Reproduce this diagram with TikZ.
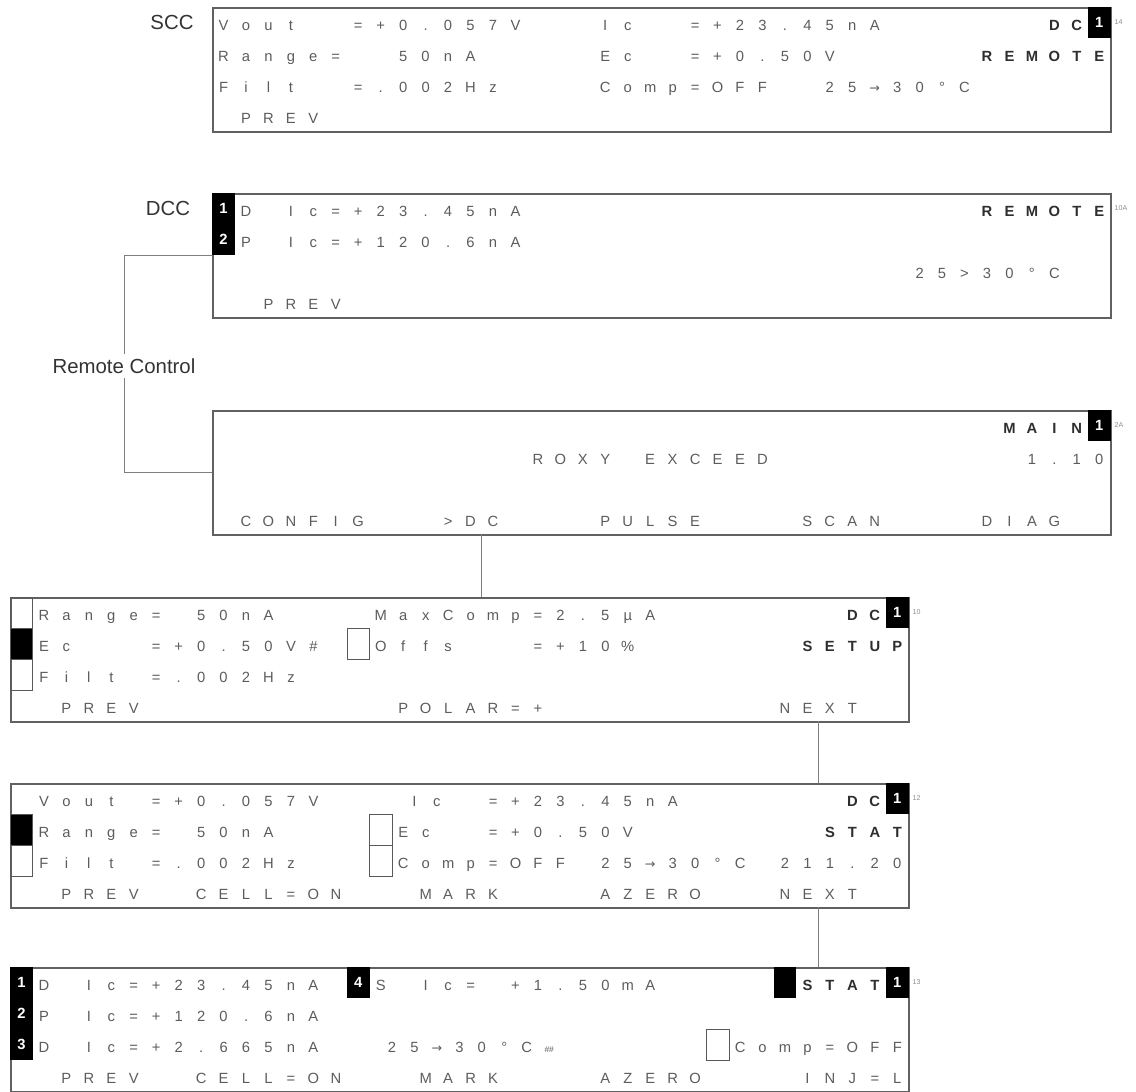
\documentclass[tikz,border=0pt]{standalone}
\usepackage{fontspec}
\setmainfont{Liberation Sans}
\newfontfamily\arrowfont{DejaVu Sans}
\usepackage{xcolor}

\definecolor{lcdtext}{HTML}{5C5C5C}
\definecolor{lcdbold}{HTML}{2E2E2E}

\newlength\cellw
\setlength\cellw{0.56125cm}
\newlength\rowh
\setlength\rowh{0.775cm}

% one character per display cell
\ExplSyntaxOn
\NewDocumentCommand\lcdspread{m}{\tl_map_inline:nn{#1}{\makebox[\cellw][c]{##1}}}
\ExplSyntaxOff
\newcommand\lcdarrow{{\arrowfont\fontsize{9}{10}\selectfont →}}

\begin{document}
\begin{tikzpicture}[x=0.025cm, y=-0.025cm,
    screen/.style={draw=black!62, line width=1.3pt, anchor=north west, minimum width=22.45cm, minimum height=3.1cm, inner sep=0pt},
    lcd/.style={anchor=base west, inner sep=0pt, yshift=-5.5pt, text=lcdtext, font=\fontsize{10.5}{12}\selectfont},
    lcdb/.style={lcd, text=lcdbold, font=\fontsize{10.5}{12}\selectfont\bfseries},
    inv/.style={anchor=north west, fill=black, text=white, minimum width=\cellw, minimum height=\rowh, inner sep=0pt, font=\fontsize{10.5}{12}\selectfont\bfseries},
    ind/.style={anchor=north west, draw=black!65, line width=0.6pt, minimum width=\cellw, minimum height=\rowh, inner sep=0pt},
    indon/.style={ind, fill=black},
    tag/.style={text=black!80, inner sep=3pt, font=\fontsize{14.5}{16}\selectfont},
    pageno/.style={anchor=west, inner sep=0pt, xshift=3pt, text=black!45, font=\fontsize{5}{6}\selectfont},
    link/.style={draw=black!50, line width=0.7pt}]
    \useasboundingbox (0,0) rectangle (1136,1091);

    % SCC
    \node[tag] (scc-tag) at (172,22) {SCC};
    \begin{scope}[shift={(212,7)}, x=0.56125cm, y=-0.775cm]
        \node[screen] (scc) at (0,0) {};
        \node[lcd] (scc-vout) at (0,0.5) {\lcdspread{Vout}};
        \node[lcd] (scc-vval) at (6,0.5) {\lcdspread{=+0.057V}};
        \node[lcd] (scc-ic) at (17,0.5) {\lcdspread{Ic}};
        \node[lcd] (scc-ival) at (21,0.5) {\lcdspread{=+23.45nA}};
        \node[lcdb] (scc-mode) at (37,0.5) {\lcdspread{DC}};
        \node[inv] (scc-ch) at (39,0) {1};
        \node[pageno] (scc-page) at (40,0.5) {14};
        \node[lcd] (scc-range) at (0,1.5) {\lcdspread{Range=}};
        \node[lcd] (scc-rval) at (8,1.5) {\lcdspread{50nA}};
        \node[lcd] (scc-ec) at (17,1.5) {\lcdspread{Ec}};
        \node[lcd] (scc-eval) at (21,1.5) {\lcdspread{=+0.50V}};
        \node[lcdb] (scc-remote) at (34,1.5) {\lcdspread{REMOTE}};
        \node[lcd] (scc-filt) at (0,2.5) {\lcdspread{Filt}};
        \node[lcd] (scc-fval) at (6,2.5) {\lcdspread{=.002Hz}};
        \node[lcd] (scc-comp) at (17,2.5) {\lcdspread{Comp=OFF}};
        \node[lcd] (scc-temp) at (27,2.5) {\lcdspread{25{\lcdarrow}30°C}};
        \node[lcd] (scc-prev) at (1,3.5) {\lcdspread{PREV}};
    \end{scope}

    % DCC
    \node[tag] (dcc-tag) at (168,208) {DCC};
    \begin{scope}[shift={(212,193)}, x=0.56125cm, y=-0.775cm]
        \node[screen] (dcc) at (0,0) {};
        \node[inv] (dcc-ch1) at (0,0) {1};
        \node[inv] (dcc-ch2) at (0,1) {2};
        \node[lcd] (dcc-d) at (1,0.5) {\lcdspread{D}};
        \node[lcd] (dcc-ic1) at (3,0.5) {\lcdspread{Ic=+23.45nA}};
        \node[lcdb] (dcc-remote) at (34,0.5) {\lcdspread{REMOTE}};
        \node[pageno] (dcc-page) at (40,0.5) {10A};
        \node[lcd] (dcc-p) at (1,1.5) {\lcdspread{P}};
        \node[lcd] (dcc-ic2) at (3,1.5) {\lcdspread{Ic=+120.6nA}};
        \node[lcd] (dcc-temp) at (31,2.5) {\lcdspread{25>30°C}};
        \node[lcd] (dcc-prev) at (2,3.5) {\lcdspread{PREV}};
        \coordinate (dcc-link) at (0,2);
    \end{scope}

    % main menu
    \begin{scope}[shift={(212,410)}, x=0.56125cm, y=-0.775cm]
        \node[screen] (main) at (0,0) {};
        \node[lcdb] (main-title) at (35,0.5) {\lcdspread{MAIN}};
        \node[inv] (main-ch) at (39,0) {1};
        \node[pageno] (main-page) at (40,0.5) {2A};
        \node[lcd] (main-name) at (14,1.5) {\lcdspread{ROXY{~}EXCEED}};
        \node[lcd] (main-ver) at (36,1.5) {\lcdspread{1.10}};
        \node[lcd] (main-config) at (1,3.5) {\lcdspread{CONFIG}};
        \node[lcd] (main-dc) at (10,3.5) {\lcdspread{>DC}};
        \node[lcd] (main-pulse) at (17,3.5) {\lcdspread{PULSE}};
        \node[lcd] (main-scan) at (26,3.5) {\lcdspread{SCAN}};
        \node[lcd] (main-diag) at (34,3.5) {\lcdspread{DIAG}};
        \coordinate (main-link) at (0,2);
        \coordinate (main-out) at (12,4);
    \end{scope}

    % DC setup
    \begin{scope}[shift={(10,597)}, x=0.56125cm, y=-0.775cm]
        \node[screen] (setup) at (0,0) {};
        \node[ind] (setup-i1) at (0,0) {};
        \node[indon] (setup-i2) at (0,1) {};
        \node[ind] (setup-i3) at (0,2) {};
        \node[ind] (setup-i4) at (15,1) {};
        \node[lcd] (setup-range) at (1,0.5) {\lcdspread{Range=}};
        \node[lcd] (setup-rval) at (8,0.5) {\lcdspread{50nA}};
        \node[lcd] (setup-max) at (16,0.5) {\lcdspread{MaxComp=2.5µA}};
        \node[lcdb] (setup-mode) at (37,0.5) {\lcdspread{DC}};
        \node[inv] (setup-ch) at (39,0) {1};
        \node[pageno] (setup-page) at (40,0.5) {10};
        \node[lcd] (setup-ec) at (1,1.5) {\lcdspread{Ec}};
        \node[lcd] (setup-eval) at (6,1.5) {\lcdspread{=+0.50V\#}};
        \node[lcd] (setup-offs) at (16,1.5) {\lcdspread{Offs}};
        \node[lcd] (setup-oval) at (23,1.5) {\lcdspread{=+10\%}};
        \node[lcdb] (setup-title) at (35,1.5) {\lcdspread{SETUP}};
        \node[lcd] (setup-filt) at (1,2.5) {\lcdspread{Filt}};
        \node[lcd] (setup-fval) at (6,2.5) {\lcdspread{=.002Hz}};
        \node[lcd] (setup-prev) at (2,3.5) {\lcdspread{PREV}};
        \node[lcd] (setup-polar) at (17,3.5) {\lcdspread{POLAR=+}};
        \node[lcd] (setup-next) at (34,3.5) {\lcdspread{NEXT}};
        \coordinate (setup-out) at (36,4);
    \end{scope}

    % DC status
    \begin{scope}[shift={(10,783)}, x=0.56125cm, y=-0.775cm]
        \node[screen] (stat) at (0,0) {};
        \node[indon] (stat-i1) at (0,1) {};
        \node[ind] (stat-i2) at (0,2) {};
        \node[ind] (stat-i3) at (16,1) {};
        \node[ind] (stat-i4) at (16,2) {};
        \node[lcd] (stat-vout) at (1,0.5) {\lcdspread{Vout}};
        \node[lcd] (stat-vval) at (6,0.5) {\lcdspread{=+0.057V}};
        \node[lcd] (stat-ic) at (17.5,0.5) {\lcdspread{Ic}};
        \node[lcd] (stat-ival) at (21,0.5) {\lcdspread{=+23.45nA}};
        \node[lcdb] (stat-mode) at (37,0.5) {\lcdspread{DC}};
        \node[inv] (stat-ch) at (39,0) {1};
        \node[pageno] (stat-page) at (40,0.5) {12};
        \node[lcd] (stat-range) at (1,1.5) {\lcdspread{Range=}};
        \node[lcd] (stat-rval) at (8,1.5) {\lcdspread{50nA}};
        \node[lcd] (stat-ec) at (17,1.5) {\lcdspread{Ec}};
        \node[lcd] (stat-eval) at (21,1.5) {\lcdspread{=+0.50V}};
        \node[lcdb] (stat-title) at (36,1.5) {\lcdspread{STAT}};
        \node[lcd] (stat-filt) at (1,2.5) {\lcdspread{Filt}};
        \node[lcd] (stat-fval) at (6,2.5) {\lcdspread{=.002Hz}};
        \node[lcd] (stat-comp) at (17,2.5) {\lcdspread{Comp=OFF}};
        \node[lcd] (stat-temp) at (26,2.5) {\lcdspread{25{\lcdarrow}30°C}};
        \node[lcd] (stat-time) at (34,2.5) {\lcdspread{211.20}};
        \node[lcd] (stat-prev) at (2,3.5) {\lcdspread{PREV}};
        \node[lcd] (stat-cell) at (8,3.5) {\lcdspread{CELL=ON}};
        \node[lcd] (stat-mark) at (18,3.5) {\lcdspread{MARK}};
        \node[lcd] (stat-azero) at (26,3.5) {\lcdspread{AZERO}};
        \node[lcd] (stat-next) at (34,3.5) {\lcdspread{NEXT}};
        \coordinate (stat-out) at (36,4);
    \end{scope}

    % multi channel status
    \begin{scope}[shift={(10,967)}, x=0.56125cm, y=-0.775cm]
        \node[screen] (multi) at (0,0) {};
        \node[inv] (multi-ch1) at (0,0) {1};
        \node[inv] (multi-ch2) at (0,1) {2};
        \node[inv] (multi-ch3) at (0,2) {3};
        \node[inv] (multi-ch4) at (15,0) {4};
        \node[inv] (multi-sel) at (34,0) {};
        \node[ind] (multi-i1) at (31,2) {};
        \node[lcd] (multi-d1) at (1,0.5) {\lcdspread{D}};
        \node[lcd] (multi-ic1) at (3,0.5) {\lcdspread{Ic=+23.45nA}};
        \node[lcd] (multi-s) at (16,0.5) {\lcdspread{S}};
        \node[lcd] (multi-ic4) at (18,0.5) {\lcdspread{Ic=}};
        \node[lcd] (multi-ival) at (22,0.5) {\lcdspread{+1.50mA}};
        \node[lcdb] (multi-title) at (35,0.5) {\lcdspread{STAT}};
        \node[inv] (multi-ch) at (39,0) {1};
        \node[pageno] (multi-page) at (40,0.5) {13};
        \node[lcd] (multi-p) at (1,1.5) {\lcdspread{P}};
        \node[lcd] (multi-ic2) at (3,1.5) {\lcdspread{Ic=+120.6nA}};
        \node[lcd] (multi-d3) at (1,2.5) {\lcdspread{D}};
        \node[lcd] (multi-ic3) at (3,2.5) {\lcdspread{Ic=+2.665nA}};
        \node[lcd] (multi-temp) at (16.5,2.5) {\lcdspread{25{\lcdarrow}30°C{\fontsize{6}{6}\selectfont\#\#}}};
        \node[lcd] (multi-comp) at (32,2.5) {\lcdspread{Comp=OFF}};
        \node[lcd] (multi-prev) at (2,3.5) {\lcdspread{PREV}};
        \node[lcd] (multi-cell) at (8,3.5) {\lcdspread{CELL=ON}};
        \node[lcd] (multi-mark) at (18,3.5) {\lcdspread{MARK}};
        \node[lcd] (multi-azero) at (26,3.5) {\lcdspread{AZERO}};
        \node[lcd] (multi-inj) at (35,3.5) {\lcdspread{INJ=L}};
    \end{scope}

    % connectors
    \node[tag] (remote) at (124,366) {Remote Control};
    \draw[link] (dcc-link) -| (remote.north);
    \draw[link] (remote.south) |- (main-link);
    \draw[link] (main-out) -- (main-out |- setup.north);
    \draw[link] (setup-out) -- (setup-out |- stat.north);
    \draw[link] (stat-out) -- (stat-out |- multi.north);
\end{tikzpicture}
\end{document}
